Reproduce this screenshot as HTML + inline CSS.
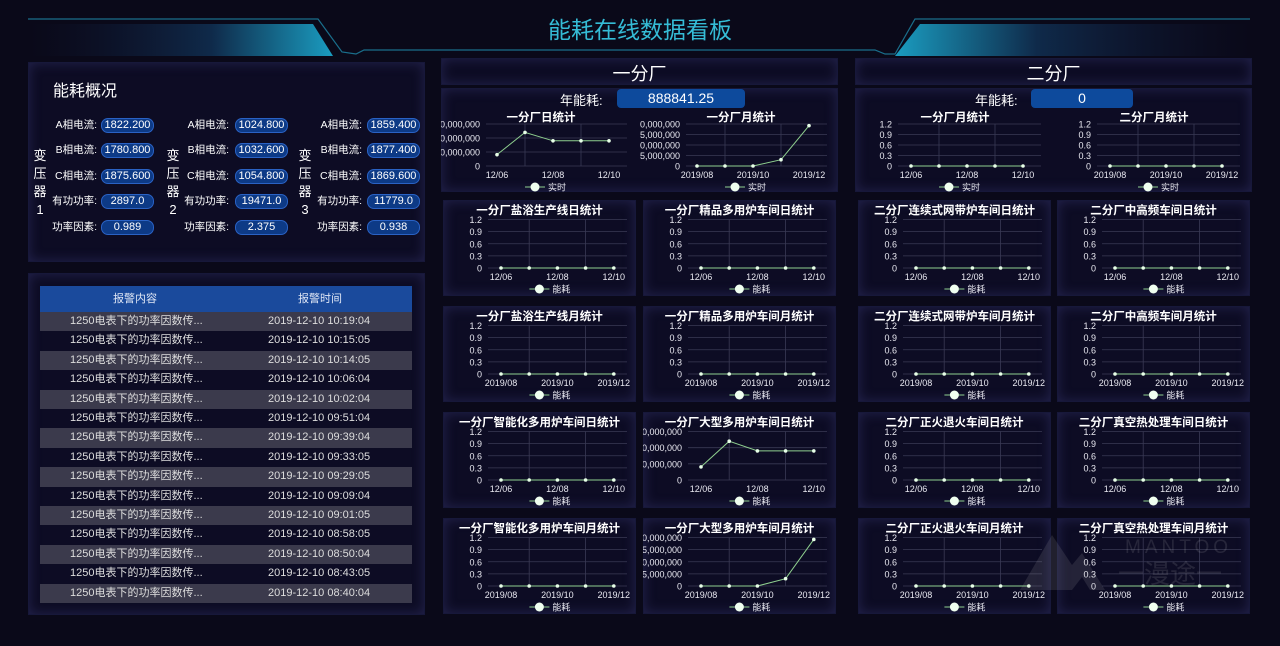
<!DOCTYPE html>
<html><head><meta charset="utf-8">
<style>
*{margin:0;padding:0;box-sizing:border-box}
body{width:1280px;height:646px;background:#0a0919;overflow:hidden;position:relative;font-family:"Liberation Sans","Noto Sans CJK SC",sans-serif;color:#fff}
.a{position:absolute}
.panel{position:absolute;background:#0d0c24;box-shadow:inset 0 0 12px rgba(70,70,140,.4);border:1px solid #17183a}
.pill{position:absolute;background:#0d3a86;border:1px solid #2a62c4;border-radius:7px;color:#fff;font-size:11px;text-align:center;line-height:13px;height:15px}
.lab{position:absolute;font-size:10.5px;color:#fff;text-align:right;width:60px;line-height:15px}
.vt{position:absolute;font-size:13px;width:14px;line-height:18px;text-align:center}
.row{position:absolute;left:40px;width:372px;height:19.4px;font-size:11px;color:#ddd;line-height:19.4px}
.row span{position:absolute}
svg text{font-family:"Liberation Sans","Noto Sans CJK SC",sans-serif}
</style></head><body>
<svg class="a" style="left:0;top:0" width="1280" height="60">
<defs>
<linearGradient id="gl" x1="0" x2="1"><stop offset="0" stop-color="#0f1530" stop-opacity="0"/><stop offset="0.6" stop-color="#0f2a4a"/><stop offset="1" stop-color="#1a9cc0"/></linearGradient>
<linearGradient id="gr" x1="1" x2="0"><stop offset="0" stop-color="#0f1530" stop-opacity="0"/><stop offset="0.6" stop-color="#0f2a4a"/><stop offset="1" stop-color="#1a9cc0"/></linearGradient>
</defs>
<polygon points="30,24 313,24 333,56 30,56" fill="url(#gl)"/>
<polygon points="1250,24 920,24 895,56 1250,56" fill="url(#gr)"/>
<polyline points="28,19 318,19 342,52 356,54 364,50 875,50 885,54 895,54 915,19 1250,19" fill="none" stroke="#1a6f8c" stroke-width="1.2"/>
<text x="640" y="38" text-anchor="middle" font-size="23" fill="#35bcd6">能耗在线数据看板</text>
</svg>

<div class="panel" style="left:28px;top:62px;width:397px;height:200px"></div>
<div class="a" style="left:53px;top:77px;font-size:16px">能耗概况</div>
<div id="trans"></div>

<div class="panel" style="left:28px;top:273px;width:397px;height:342px"></div>
<div class="a" style="left:40px;top:286px;width:372px;height:26px;background:#1a4a9c;font-size:11px;line-height:26px;color:#dfe6f5">
<span class="a" style="left:73px">报警内容</span><span class="a" style="left:258px">报警时间</span></div>
<div id="tbl"></div>

<div class="panel" style="left:441px;top:58px;width:397px;height:27px"></div>
<div class="a" style="left:441px;top:60px;width:397px;text-align:center;font-size:18px">一分厂</div>
<div class="panel" style="left:441px;top:88px;width:397px;height:104px"></div>
<div class="a" style="left:560px;top:90px;font-size:13px">年能耗:</div>
<div class="a" style="left:617px;top:89px;width:128px;height:19px;background:#0d4a9c;border-radius:4px;font-size:14px;text-align:center;line-height:19px">888841.25</div>

<div class="panel" style="left:855px;top:58px;width:397px;height:27px"></div>
<div class="a" style="left:855px;top:60px;width:397px;text-align:center;font-size:18px">二分厂</div>
<div class="panel" style="left:855px;top:88px;width:397px;height:104px"></div>
<div class="a" style="left:975px;top:90px;font-size:13px">年能耗:</div>
<div class="a" style="left:1031px;top:89px;width:102px;height:19px;background:#0d4a9c;border-radius:4px;font-size:14px;text-align:center;line-height:19px">0</div>

<div id="charts"></div>

<svg class="a" style="left:1010px;top:525px;opacity:.13" width="250" height="75">
<polygon points="10,65 42,10 62,40 72,28 95,65 80,65 72,52 62,65" fill="#bbb"/>
<text x="115" y="28" font-size="19" fill="#ccc" letter-spacing="4">MANTOO</text>
<text x="108" y="58" font-size="26" fill="#ccc">一漫途一</text>
</svg>

<script>
(function(){
var t=document.getElementById('trans'),h='';
var cols=[{lx:37,pl:101,vx:33,v:['1822.200','1780.800','1875.600','2897.0','0.989'],n:'1'},
{lx:169,pl:235,vx:166,v:['1024.800','1032.600','1054.800','19471.0','2.375'],n:'2'},
{lx:302,pl:367,vx:298,v:['1859.400','1877.400','1869.600','11779.0','0.938'],n:'3'}];
var labs=['A相电流:','B相电流:','C相电流:','有功功率:','功率因素:'],ys=[118,143,169,194,220];
cols.forEach(function(c){
 for(var i=0;i<5;i++){h+='<div class="lab" style="left:'+c.lx+'px;top:'+ys[i]+'px">'+labs[i]+'</div>';
 h+='<div class="pill" style="left:'+c.pl+'px;top:'+ys[i]+'px;width:53px">'+c.v[i]+'</div>';}
 h+='<div class="vt" style="left:'+c.vx+'px;top:147px">变<br>压<br>器<br>'+c.n+'</div>';
});
t.innerHTML=h;
var times=['10:19:04','10:15:05','10:14:05','10:06:04','10:02:04','09:51:04','09:39:04','09:33:05','09:29:05','09:09:04','09:01:05','08:58:05','08:50:04','08:43:05','08:40:04'];
h='';
times.forEach(function(tm,i){
 h+='<div class="row" style="top:'+(312+i*19.4)+'px;background:'+(i%2==0?'#3b3a4c':'transparent')+'"><span style="left:30px">1250电表下的功率因数传...</span><span style="left:228px">2019-12-10 '+tm+'</span></div>';
});
document.getElementById('tbl').innerHTML=h;

function chart(px,py,w,o){
 var s='<svg class="a" style="left:'+px+'px;top:'+py+'px" width="'+w+'" height="'+o.h+'">';
 if(o.panel) s='<div class="panel" style="left:'+px+'px;top:'+py+'px;width:'+w+'px;height:'+o.h+'px"></div>'+s;
 var tp=o.tp,bot=o.bot,gl=o.gl,gr=o.gr,x0=o.x0,st=o.st;
 var yl=o.yl,n=yl.length;
 for(var i=0;i<n;i++){var y=bot-(bot-tp)*i/(n-1);
  s+='<line x1="'+gl+'" x2="'+gr+'" y1="'+y+'" y2="'+y+'" stroke="#3a3a55" stroke-width="0.8"/>';
  s+='<text x="'+(gl-6)+'" y="'+(y+3.5)+'" font-size="9" fill="#e8e8f0" text-anchor="end">'+yl[i]+'</text>';}
 [1,3].forEach(function(k){var x=x0+st*k;s+='<line x1="'+x+'" x2="'+x+'" y1="'+tp+'" y2="'+bot+'" stroke="#3a3a55" stroke-width="0.8"/>';});
 var pts=[];for(var k=0;k<5;k++){pts.push((x0+st*k)+','+(bot-(bot-tp)*o.d[k]));}
 s+='<polyline points="'+pts.join(' ')+'" fill="none" stroke="#8fd08f" stroke-width="1"/>';
 pts.forEach(function(p){var q=p.split(',');s+='<circle cx="'+q[0]+'" cy="'+q[1]+'" r="1.8" fill="#e8ffe8"/>';});
 [0,2,4].forEach(function(k){s+='<text x="'+(x0+st*k)+'" y="'+(bot+12)+'" font-size="9" fill="#e8e8f0" text-anchor="middle">'+o.xl[k/2]+'</text>';});
 var lx=x0+st*2-18,ly=bot+21;
 s+='<line x1="'+(lx-10)+'" x2="'+(lx+10)+'" y1="'+ly+'" y2="'+ly+'" stroke="#8fd08f"/><circle cx="'+lx+'" cy="'+ly+'" r="4.5" fill="#f0fff0"/>';
 s+='<text x="'+(lx+13)+'" y="'+(ly+3.5)+'" font-size="9" fill="#e8e8f0">'+o.lg+'</text>';
 s+='<text x="'+(o.tx||w/2)+'" y="'+o.ty+'" font-size="11.5" font-weight="bold" fill="#fff" text-anchor="middle">'+o.t+'</text>';
 return s+'</svg>';
}
var Y12=['0','0.3','0.6','0.9','1.2'],DX=['12/06','12/08','12/10'],MX=['2019/08','2019/10','2019/12'],Z=[0,0,0,0,0];
var DD=[0.27,0.8,0.6,0.6,0.6],MD=[0,0,0,0.15,0.96];
var Y4=['0','0,000,000','0,000,000','0,000,000'],Y5=['0','5,000,000','0,000,000','5,000,000','0,000,000'];
h='';
function topc(px,w,t,yl,xl,d,lg,x0,gl){return chart(px,108,w,{h:84,tp:16,bot:58,gl:gl,gr:x0+4*28+18,x0:x0,st:28,yl:yl,xl:xl,d:d,lg:lg,t:t,ty:13,tx:x0+44});}
h+=topc(441,199,'一分厂日统计',Y4,DX,DD,'实时',56,45);
h+=topc(640,199,'一分厂月统计',Y5,MX,MD,'实时',57,46);
h+=topc(855,199,'一分厂月统计',Y12,DX,Z,'实时',56,43);
h+=topc(1054,199,'二分厂月统计',Y12,MX,Z,'实时',56,43);
var mid=[['一分厂盐浴生产线日统计',Y12,DX,Z],['一分厂精品多用炉车间日统计',Y12,DX,Z],
['一分厂盐浴生产线月统计',Y12,MX,Z],['一分厂精品多用炉车间月统计',Y12,MX,Z],
['一分厂智能化多用炉车间日统计',Y12,DX,Z],['一分厂大型多用炉车间日统计',Y4,DX,DD],
['一分厂智能化多用炉车间月统计',Y12,MX,Z],['一分厂大型多用炉车间月统计',Y5,MX,MD]];
var rgt=[['二分厂连续式网带炉车间日统计',DX],['二分厂中高频车间日统计',DX],['二分厂连续式网带炉车间月统计',MX],['二分厂中高频车间月统计',MX],
['二分厂正火退火车间日统计',DX],['二分厂真空热处理车间日统计',DX],['二分厂正火退火车间月统计',MX],['二分厂真空热处理车间月统计',MX]];
var rowsY=[200,306,412,518];
for(var i=0;i<8;i++){
 var r=Math.floor(i/2),c=i%2,m=mid[i];
 h+=chart(c?643:443,rowsY[r],193,{panel:1,h:96,tp:19.5,bot:68,gl:45,gr:184,x0:58,st:28.2,yl:m[1],xl:m[2],d:m[3],lg:'能耗',t:m[0],ty:14});
 var q=rgt[i];
 h+=chart(c?1057:858,rowsY[r],193,{panel:1,h:96,tp:19.5,bot:68,gl:45,gr:184,x0:58,st:28.2,yl:Y12,xl:q[1],d:Z,lg:'能耗',t:q[0],ty:14});
}
document.getElementById('charts').innerHTML=h;
})();
</script>
</body></html>
